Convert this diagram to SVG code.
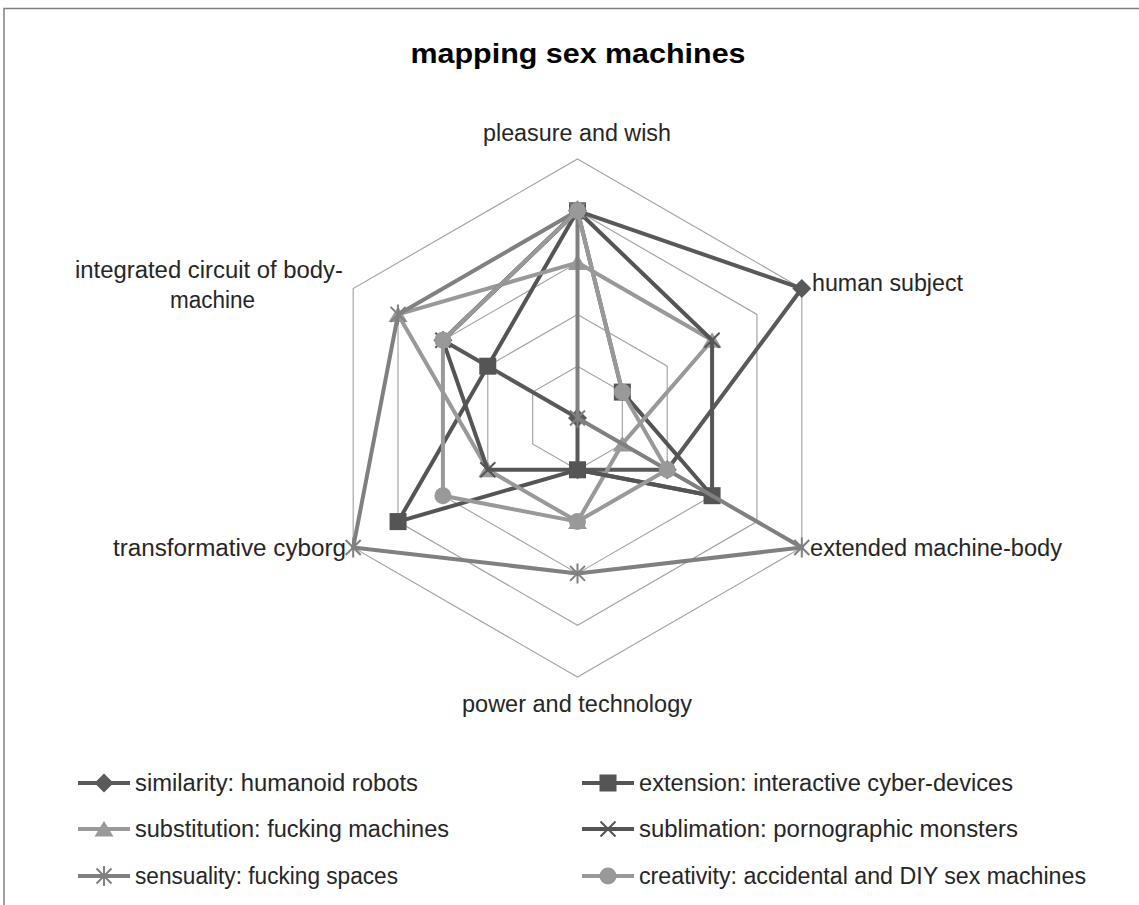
<svg xmlns="http://www.w3.org/2000/svg" width="1139" height="905" viewBox="0 0 1139 905">
<style>
.t{font-family:"Liberation Sans",Arial,sans-serif;font-size:23px;fill:#262626}
.title{font-family:"Liberation Sans",Arial,sans-serif;font-size:28px;font-weight:bold;fill:#000}
.ring{fill:none;stroke:#a6a6a6;stroke-width:1.2}
.s{fill:none;stroke-width:4;stroke-linejoin:round;stroke-linecap:round}
.dk{stroke:#595959}
.dk2{stroke:#555555}
.md{stroke:#808080}
.lt{stroke:#999999}
.lg{stroke-width:4}
</style>
<defs>
<polygon id="m-dia" points="0,-9.5 9.5,0 0,9.5 -9.5,0" fill="#595959"/>
<rect id="m-sq" x="-8.5" y="-8.5" width="17" height="17" fill="#555555"/>
<polygon id="m-tri" points="0,-8 9.5,7.5 -9.5,7.5" fill="#999999"/>
<path id="m-x" d="M-7.5,-7.5L7.5,7.5M-7.5,7.5L7.5,-7.5" stroke="#555555" stroke-width="2" fill="none"/>
<path id="m-star" d="M-7.5,-7.5L7.5,7.5M-7.5,7.5L7.5,-7.5M0,-10L0,10" stroke="#808080" stroke-width="2" fill="none"/>
<circle id="m-ci" r="8.5" fill="#999999"/>
</defs>
<rect x="0" y="0" width="1139" height="905" fill="#ffffff"/>
<rect x="4" y="8.5" width="1140" height="910" fill="none" stroke="#808080" stroke-width="1.5"/>
<text class="title" x="578" y="63" text-anchor="middle" textLength="335" lengthAdjust="spacingAndGlyphs">mapping sex machines</text>
<g id="grid">
<polygon class="ring" points="577.5,366.2 622.36,392.1 622.36,443.9 577.5,469.8 532.64,443.9 532.64,392.1"/>
<polygon class="ring" points="577.5,314.4 667.22,366.2 667.22,469.8 577.5,521.6 487.78,469.8 487.78,366.2"/>
<polygon class="ring" points="577.5,262.6 712.08,340.3 712.08,495.7 577.5,573.4 442.92,495.7 442.92,340.3"/>
<polygon class="ring" points="577.5,210.8 756.94,314.4 756.94,521.6 577.5,625.2 398.06,521.6 398.06,314.4"/>
<polygon class="ring" points="577.5,159 801.8,288.5 801.8,547.5 577.5,677 353.2,547.5 353.2,288.5"/>
</g>
<g id="axis-labels">
<text class="t" x="577" y="141" text-anchor="middle" textLength="188" lengthAdjust="spacingAndGlyphs">pleasure and wish</text>
<text class="t" x="812" y="291" textLength="151" lengthAdjust="spacingAndGlyphs">human subject</text>
<text class="t" x="810" y="556" textLength="252" lengthAdjust="spacingAndGlyphs">extended machine-body</text>
<text class="t" x="577" y="712" text-anchor="middle" textLength="230" lengthAdjust="spacingAndGlyphs">power and technology</text>
<text class="t" x="346" y="556" text-anchor="end" textLength="233" lengthAdjust="spacingAndGlyphs">transformative cyborg</text>
<text class="t" x="75" y="278" textLength="268" lengthAdjust="spacingAndGlyphs">integrated circuit of body-</text>
<text class="t" x="170" y="308" textLength="85" lengthAdjust="spacingAndGlyphs">machine</text>
</g>
<g id="connectors">
<g id="similarity">
<polygon class="s dk" points="577.5,210.8 801.8,288.5 667.22,469.8 577.5,469.8 577.5,418 442.92,340.3"/>
<use href="#m-dia" x="577.5" y="210.8"/><use href="#m-dia" x="801.8" y="288.5"/><use href="#m-dia" x="667.22" y="469.8"/><use href="#m-dia" x="577.5" y="469.8"/><use href="#m-dia" x="577.5" y="418"/><use href="#m-dia" x="442.92" y="340.3"/>
</g>
<g id="extension">
<polygon class="s dk2" points="577.5,210.8 622.36,392.1 712.08,495.7 577.5,469.8 398.06,521.6 487.78,366.2"/>
<use href="#m-sq" x="577.5" y="210.8"/><use href="#m-sq" x="622.36" y="392.1"/><use href="#m-sq" x="712.08" y="495.7"/><use href="#m-sq" x="577.5" y="469.8"/><use href="#m-sq" x="398.06" y="521.6"/><use href="#m-sq" x="487.78" y="366.2"/>
</g>
<g id="substitution">
<polygon class="s lt" points="577.5,262.6 712.08,340.3 622.36,443.9 577.5,521.6 487.78,469.8 398.06,314.4"/>
<use href="#m-tri" x="577.5" y="262.6"/><use href="#m-tri" x="712.08" y="340.3"/><use href="#m-tri" x="622.36" y="443.9"/><use href="#m-tri" x="577.5" y="521.6"/><use href="#m-tri" x="487.78" y="469.8"/><use href="#m-tri" x="398.06" y="314.4"/>
</g>
<g id="sublimation">
<polygon class="s dk2" points="577.5,210.8 712.08,340.3 712.08,495.7 577.5,469.8 487.78,469.8 442.92,340.3"/>
<use href="#m-x" x="577.5" y="210.8"/><use href="#m-x" x="712.08" y="340.3"/><use href="#m-x" x="712.08" y="495.7"/><use href="#m-x" x="577.5" y="469.8"/><use href="#m-x" x="487.78" y="469.8"/><use href="#m-x" x="442.92" y="340.3"/>
</g>
<g id="sensuality">
<polygon class="s md" points="577.5,210.8 577.5,418 801.8,547.5 577.5,573.4 353.2,547.5 398.06,314.4"/>
<use href="#m-star" x="577.5" y="210.8"/><use href="#m-star" x="577.5" y="418"/><use href="#m-star" x="801.8" y="547.5"/><use href="#m-star" x="577.5" y="573.4"/><use href="#m-star" x="353.2" y="547.5"/><use href="#m-star" x="398.06" y="314.4"/>
</g>
<g id="creativity">
<polygon class="s lt" points="577.5,210.8 622.36,392.1 667.22,469.8 577.5,521.6 442.92,495.7 442.92,340.3"/>
<use href="#m-ci" x="577.5" y="210.8"/><use href="#m-ci" x="622.36" y="392.1"/><use href="#m-ci" x="667.22" y="469.8"/><use href="#m-ci" x="577.5" y="521.6"/><use href="#m-ci" x="442.92" y="495.7"/><use href="#m-ci" x="442.92" y="340.3"/>
</g>
</g>
<g id="legend">
<g id="leg-similarity"><line class="lg dk" x1="78" y1="783" x2="130" y2="783"/><use href="#m-dia" x="104" y="783"/><text class="t" x="135" y="791" textLength="283" lengthAdjust="spacingAndGlyphs">similarity: humanoid robots</text></g>
<g id="leg-substitution"><line class="lg lt" x1="78" y1="829" x2="130" y2="829"/><use href="#m-tri" x="104" y="829"/><text class="t" x="135" y="837" textLength="314" lengthAdjust="spacingAndGlyphs">substitution: fucking machines</text></g>
<g id="leg-sensuality"><line class="lg md" x1="78" y1="876" x2="130" y2="876"/><use href="#m-star" x="104" y="876"/><text class="t" x="135" y="884" textLength="263" lengthAdjust="spacingAndGlyphs">sensuality: fucking spaces</text></g>
<g id="leg-extension"><line class="lg dk2" x1="582" y1="783" x2="634" y2="783"/><use href="#m-sq" x="608" y="783"/><text class="t" x="639" y="791" textLength="374" lengthAdjust="spacingAndGlyphs">extension: interactive cyber-devices</text></g>
<g id="leg-sublimation"><line class="lg dk2" x1="582" y1="829" x2="634" y2="829"/><use href="#m-x" x="608" y="829"/><text class="t" x="639" y="837" textLength="379" lengthAdjust="spacingAndGlyphs">sublimation: pornographic monsters</text></g>
<g id="leg-creativity"><line class="lg lt" x1="582" y1="876" x2="634" y2="876"/><use href="#m-ci" x="608" y="876"/><text class="t" x="639" y="884" textLength="447" lengthAdjust="spacingAndGlyphs">creativity: accidental and DIY sex machines</text></g>
</g>
</svg>
